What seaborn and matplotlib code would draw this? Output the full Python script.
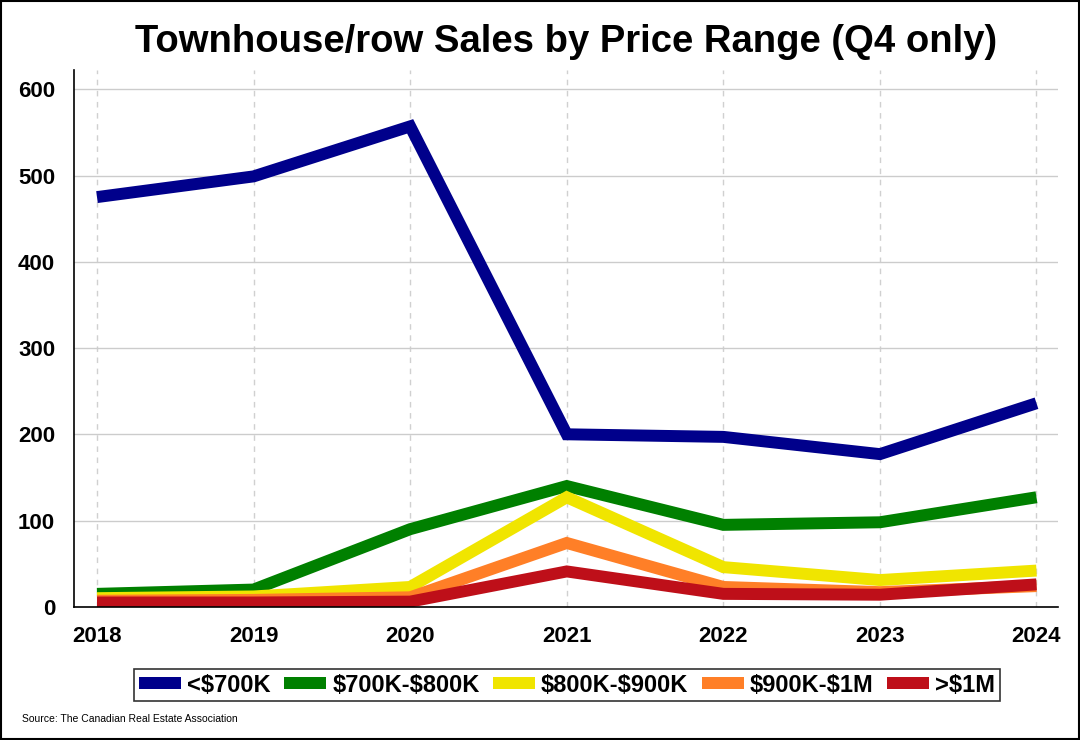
import matplotlib
matplotlib.use("Agg")
import matplotlib.pyplot as plt
import matplotlib.patches as mpatches
import seaborn as sns
import pandas as pd

# данные (Q4, продажи таунхаусов по ценовым диапазонам)
years = [2018, 2019, 2020, 2021, 2022, 2023, 2024]
under_700k = [475, 499, 557, 200, 197, 177, 236]
k700_800 = [15, 20, 90, 140, 95, 98, 127]
k800_900 = [10, 12, 23, 127, 46, 31, 42]
k900_1m = [7, 8, 11, 74, 23, 17, 24]
over_1m = [5, 5, 6, 41, 15, 14, 26]

labels = ["<$700K", "$700K-$800K", "$800K-$900K", "$900K-$1M", ">$1M"]
colors = ["#00008B", "#008000", "#F0E500", "#FF7F27", "#BE0F19"]

df = pd.DataFrame({"year": years * 5,
                   "sales": under_700k + k700_800 + k800_900 + k900_1m + over_1m,
                   "range": [l for l in labels for _ in years]})

sns.set_style("white")
plt.rcParams["font.family"] = ["Liberation Sans", "DejaVu Sans"]
plt.rcParams["text.parse_math"] = False  # знаки $ без mathtext
plt.rcParams["text.color"] = "black"
plt.rcParams["xtick.labelcolor"] = "black"
plt.rcParams["ytick.labelcolor"] = "black"

fig = plt.figure(figsize=(10.8, 7.4), dpi=100)
ax = fig.add_axes([0.0685, 0.18, 0.9115, 0.725])

sns.lineplot(data=df, x="year", y="sales", hue="range", hue_order=labels,
             palette=colors, linewidth=8.6, ax=ax, legend=False,
             solid_capstyle="butt", solid_joinstyle="miter")

ax.set_xlim(2017.853, 2024.14)
ax.set_ylim(0, 622)
ax.set_xticks(years)
ax.set_yticks(range(0, 601, 100))
ax.set_xlabel("")
ax.set_ylabel("")
ax.grid(axis="y", color="#cccccc", linewidth=1)
ax.grid(axis="x", color="#d0d0d0", linestyle=(0, (4, 4)), linewidth=1)
ax.set_axisbelow(True)
for s in ["top", "right"]:
    ax.spines[s].set_visible(False)
for s in ["left", "bottom"]:
    ax.spines[s].set_color("black")
    ax.spines[s].set_linewidth(1.2)
ax.tick_params(axis="both", length=7.5, width=2, color="#808080", labelsize=16)
ax.tick_params(axis="x", pad=6)
ax.tick_params(axis="y", pad=6)
for t in ax.get_xticklabels() + ax.get_yticklabels():
    t.set_fontweight("bold")

fig.text(0.524, 0.943, "Townhouse/row Sales by Price Range (Q4 only)",
         ha="center", va="center", fontsize=27.5, fontweight="bold")

handles = [mpatches.Patch(facecolor=c, edgecolor="none") for c in colors]
leg = fig.legend(handles, labels, loc="center", bbox_to_anchor=(0.525, 0.074),
                 ncol=5, frameon=True, fancybox=False, edgecolor="black",
                 handlelength=1.8, handleheight=0.42, handletextpad=0.25,
                 columnspacing=0.55, borderpad=0.2, borderaxespad=0,
                 prop={"weight": "bold", "size": 17})
leg.get_frame().set_linewidth(1.2)

fig.text(0.02, 0.024, "Source: The Canadian Real Estate Association", fontsize=7.5)

# рамка вокруг всего рисунка
fig.patches.append(plt.Rectangle((0.001, 0.001), 0.998, 0.998, transform=fig.transFigure,
                                 fill=False, edgecolor="black", linewidth=1.5))

plt.savefig("out.png", dpi=100)
